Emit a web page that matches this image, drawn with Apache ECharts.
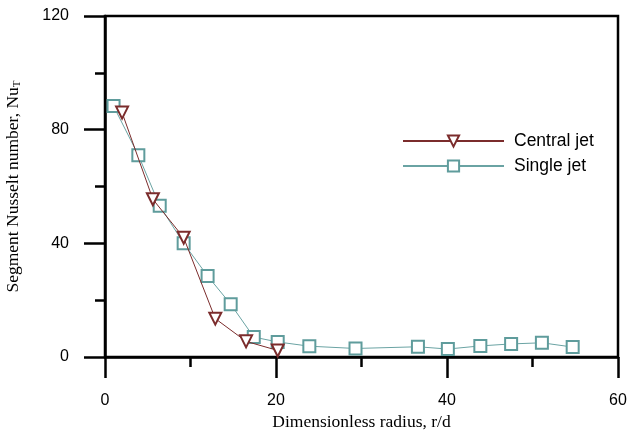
<!DOCTYPE html>
<html>
<head>
<meta charset="utf-8">
<script src="https://cdn.jsdelivr.net/npm/echarts@6/dist/echarts.min.js"></script>
<style>html,body{margin:0;padding:0;background:#fff}#c{width:629px;height:432px}</style>
</head>
<body>
<div id="c"></div>
<script>
var centralX = [2.0, 5.6, 9.2, 12.9, 16.5, 20.2];
var centralY = [86, 55.5, 42, 13.5, 5.5, 2.3];
var singleX = [1.0, 3.9, 6.4, 9.2, 12.0, 14.7, 17.4, 20.2, 23.9, 29.3, 36.6, 40.1, 43.9, 47.5, 51.1, 54.7];
var singleY = [88.3, 71, 53.2, 40, 28.5, 18.6, 7, 5.3, 3.8, 3.0, 3.6, 2.8, 3.9, 4.6, 5.0, 3.5];
var seriesNames = ['Central jet', 'Single jet'];
var xTitle = 'Dimensionless radius, r/d';

function pairs(xs, ys) { return xs.map(function (x, i) { return [x, ys[i]]; }); }

var chart = echarts.init(document.getElementById('c'));
var serif = 'Times New Roman, Liberation Serif';
var sans = 'Arial, Liberation Sans';
var axisCommon = {
  axisLine: { show: true, lineStyle: { color: '#000', width: 2.5 } },
  axisTick: { show: true, inside: false, length: 21, lineStyle: { color: '#000', width: 2.5 } },
  minorTick: { show: true, splitNumber: 2, length: 10, lineStyle: { color: '#000', width: 2.5 } },
  splitLine: { show: false },
  axisLabel: { color: '#000', fontFamily: sans, fontSize: 16 }
};
chart.setOption({
  animation: false,
  grid: { left: 105, right: 11, top: 16, bottom: 75, outerBoundsMode: 'none', containLabel: false,
          show: true, borderColor: '#000', borderWidth: 2.5, backgroundColor: 'transparent' },
  legend: {
    data: seriesNames,
    left: 402, top: 132, orient: 'vertical', padding: 0,
    itemWidth: 101, itemHeight: 14, itemGap: 7,
    textStyle: { color: '#000', fontFamily: sans, fontSize: 17.5, padding: [0, 0, 0, 5] }
  },
  xAxis: Object.assign({}, axisCommon, {
    type: 'value', min: 0, max: 60, interval: 20,
    name: xTitle, nameLocation: 'middle', nameGap: 55,
    nameTextStyle: { color: '#000', fontFamily: serif, fontSize: 17.5 },
    axisLabel: Object.assign({}, axisCommon.axisLabel, { margin: 36 })
  }),
  yAxis: Object.assign({}, axisCommon, {
    type: 'value', min: 0, max: 120, interval: 40,
    name: '{n|Segment Nusselt number, Nu}{s|T}', nameLocation: 'middle', nameGap: 82,
    nameTextStyle: {
      rich: {
        n: { color: '#000', fontFamily: serif, fontSize: 17.5 },
        s: { color: '#000', fontFamily: serif, fontSize: 11, padding: [8, 0, 0, 0] }
      }
    },
    axisLabel: Object.assign({}, axisCommon.axisLabel, { margin: 36 })
  }),
  series: [{
    name: seriesNames[0], type: 'line', data: pairs(centralX, centralY),
    symbol: 'emptyTriangle', symbolRotate: 180, symbolSize: 12,
    color: '#7b2c2c',
    lineStyle: { color: '#7b2c2c', width: 1 },
    itemStyle: { color: '#7b2c2c', borderColor: '#7b2c2c', borderWidth: 1.5 },
    z: 3
  }, {
    name: seriesNames[1], type: 'line', data: pairs(singleX, singleY),
    symbol: 'emptyRect', symbolSize: 12,
    color: '#5f9c9c',
    lineStyle: { color: '#6aa3a3', width: 1 },
    itemStyle: { color: '#5f9c9c', borderColor: '#5f9c9c', borderWidth: 2 },
    z: 2
  }]
});
</script>
</body>
</html>
